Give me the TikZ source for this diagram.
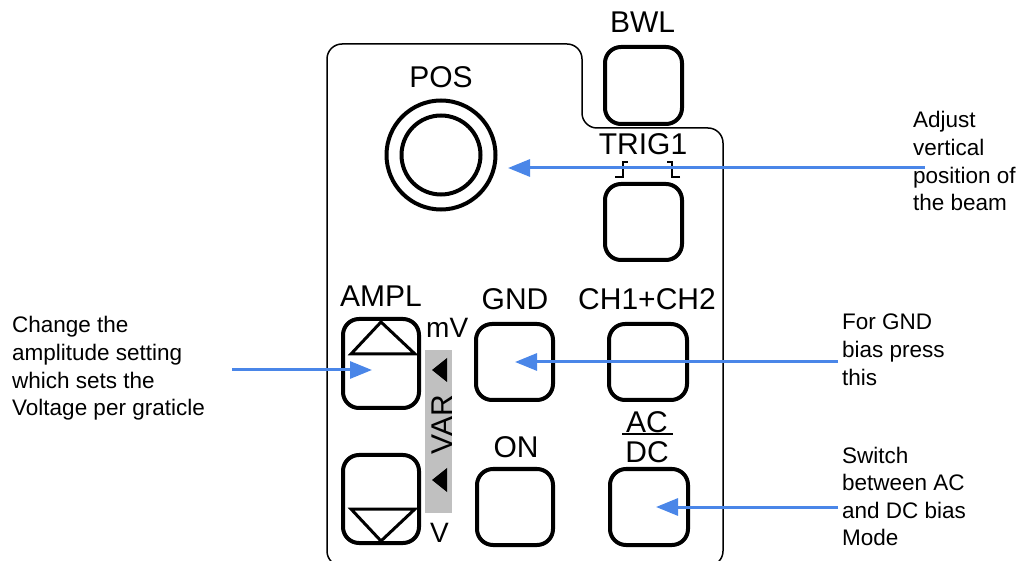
\documentclass[tikz,border=0pt]{standalone}
\usepackage{fontspec}
\setmainfont{Liberation Sans}
\usetikzlibrary{arrows.meta}
\definecolor{arrowblue}{HTML}{4A86E8}
\definecolor{vargray}{HTML}{C0C0C0}
\begin{document}
\begin{tikzpicture}[x=1pt,y=-1pt,
  panel/.style={line width=1.5pt, rounded corners=15pt},
  btn/.style={draw, line width=4pt, rounded corners=16pt, inner sep=0pt},
  knob/.style={draw, circle, line width=4pt, inner sep=0pt},
  lbl/.style={font=\fontsize{30}{34}\selectfont, inner sep=0pt, anchor=base},
  unit/.style={font=\fontsize{28}{32}\selectfont, inner sep=0pt, anchor=base west},
  note/.style={font=\fontsize{22.5}{27.6}\selectfont, align=left, inner sep=0pt, anchor=base west},
  arr/.style={arrowblue, line width=3pt, -{Triangle[length=22pt,width=17pt]}},
  tri/.style={line width=3pt, line join=miter}
]
\useasboundingbox (0,0) rectangle (1021,561);

% panel outline
\draw[panel] (327,566) -- (327,44) -- (582,44) -- (582,128) -- (723,128) -- (723,566) -- cycle;

% POS knob
\node[knob, minimum size=109pt] (posout) at (441,155) {};
\node[knob, minimum size=79pt] (posin) at (441,155) {};
\node[lbl] (poslbl) at (441,88) {POS};

% buttons
\node[btn, minimum width=77pt, minimum height=77pt] (bwl) at (643.5,85.5) {};
\node[lbl] (bwllbl) at (642.5,33) {BWL};
\node[btn, minimum width=77pt, minimum height=76pt] (trig) at (643.5,222) {};
\node[lbl] (triglbl) at (643,155) {TRIG1};
\draw[line width=2pt] (615,177) -- (623,177) -- (623,162) -- (628,162);
\draw[line width=2pt] (680,177) -- (672,177) -- (672,162) -- (667,162);

\node[btn, minimum width=76pt, minimum height=89pt] (ampup) at (381,363.5) {};
\node[btn, minimum width=76pt, minimum height=88pt] (ampdn) at (381,499) {};
\node[lbl] (ampllbl) at (381,307) {AMPL};
\draw[tri] (381,322) -- (415,354) -- (351,354) -- cycle;
\draw[tri] (381,541) -- (415,509) -- (351,509) -- cycle;

\fill[vargray] (425,350) rectangle (452,513);
\node[font=\fontsize{30}{34}\selectfont, inner sep=0pt, rotate=90] (var) at (442,424.5) {VAR};
\fill (432,370) -- (447,358) -- (447,382) -- cycle;
\fill (432,480) -- (447,468) -- (447,492) -- cycle;
\node[unit] (mv) at (426,338) {mV};
\node[unit] (v) at (430,542) {V};

\node[btn, minimum width=77pt, minimum height=76pt] (gnd) at (514.5,362) {};
\node[lbl] (gndlbl) at (515,310) {GND};
\node[btn, minimum width=78pt, minimum height=76pt] (ch) at (648,362) {};
\node[lbl] (chlbl) at (647,310) {CH1+CH2};
\node[btn, minimum width=76pt, minimum height=76pt] (on) at (515,507) {};
\node[lbl] (onlbl) at (516,457) {ON};
\node[btn, minimum width=78pt, minimum height=76pt] (acdc) at (649,507) {};
\node[lbl] (aclbl) at (647,432) {AC};
\node[lbl] (dclbl) at (647,463) {DC};
\draw[line width=2pt] (622,434) -- (673,434);

% annotations (base anchor = baseline of last line)
\node[note] (n1) at (913,210.8) {Adjust\\vertical\\position of\\the beam};
\node[note] (n2) at (12,415.8) {Change the\\amplitude setting\\which sets the\\Voltage per graticle};
\node[note] (n3) at (842,385.2) {For GND\\bias press\\this};
\node[note] (n4) at (842,545.8) {Switch\\between AC\\and DC bias\\Mode};

% arrows
\coordinate (a1s) at (925,168); \coordinate (a1e) at (508,168);
\coordinate (a2s) at (232,370); \coordinate (a2e) at (372,370);
\coordinate (a3s) at (838,362); \coordinate (a3e) at (515,362);
\coordinate (a4s) at (838,507); \coordinate (a4e) at (656,507);
\draw[arr] (a1s) -- (a1e);
\draw[arr] (a2s) -- (a2e);
\draw[arr] (a3s) -- (a3e);
\draw[arr] (a4s) -- (a4e);
\end{tikzpicture}
\end{document}
